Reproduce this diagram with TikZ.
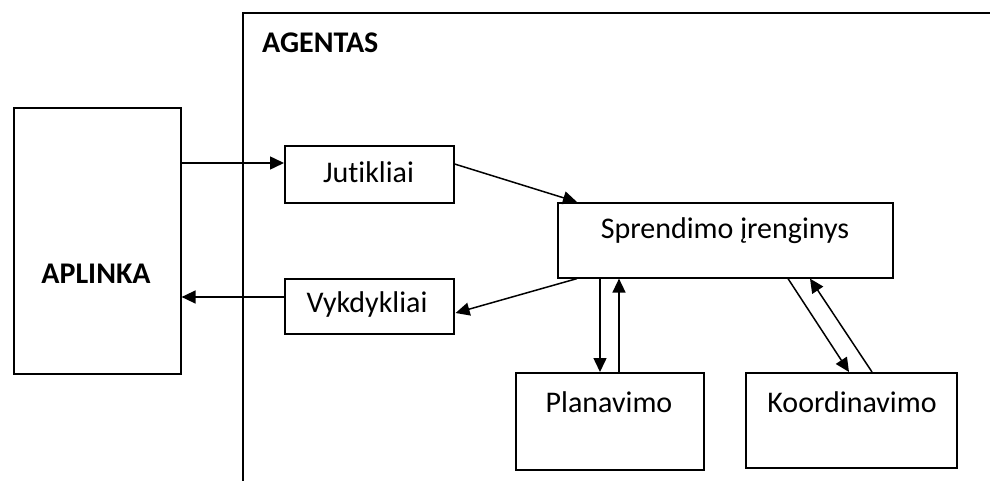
\documentclass[tikz,border=0pt]{standalone}
\usepackage{fontspec}
\setmainfont{Carlito}[RawFeature=-liga]
\usetikzlibrary{arrows.meta,calc}
\begin{document}
\begin{tikzpicture}[x=1pt,y=-1pt,
  box/.style={draw=black,line width=1.6pt,rectangle,inner sep=0pt,anchor=north west},
  lbl/.style={inner sep=0pt,anchor=base,font=\fontsize{30}{35}\selectfont},
  bold/.style={lbl,font=\fontsize{30}{35}\selectfont\bfseries},
  conn/.style={line width=1.5pt,-{Triangle[length=14pt,width=13pt]}}]
  \useasboundingbox (0,0) rectangle (990,481);
  % agent frame, running off the right and bottom edges
  \draw[line width=1.6pt] (243,481) -- (243,13) -- (990,13);
  \node[bold,anchor=base west] (agtitle) at (262,53) {AGENTAS};
  % boxes
  \node[box,minimum width=167pt,minimum height=266pt] (apl) at (13,107) {};
  \node[box,minimum width=169pt,minimum height=57pt] (jut) at (284,145) {};
  \node[box,minimum width=169pt,minimum height=55pt] (vyk) at (284,278) {};
  \node[box,minimum width=335pt,minimum height=75pt] (spr) at (557,202) {};
  \node[box,minimum width=188pt,minimum height=97pt] (plan) at (515,372) {};
  \node[box,minimum width=211pt,minimum height=95pt] (koo) at (745,372) {};
  % labels
  \node[bold] (aplt) at (96,283) {APLINKA};
  \node[lbl] (jutt) at (368.5,183) {Jutikliai};
  \node[lbl] (vykt) at (367,312) {Vykdykliai};
  \node[lbl] (sprt) at (725,238) {Sprendimo įrenginys};
  \node[lbl] (plant) at (609,412) {Planavimo};
  \node[lbl] (koot) at (852,412) {Koordinavimo};
  % connectors
  \draw[conn] ($(apl.north east)+(0,56)$) -- ($(jut.north west)+(0,18)$);
  \draw[conn] ($(jut.north east)+(0,19)$) -- ($(spr.north west)+(20,0)$);
  \draw[conn] ($(spr.south west)+(20,0)$) -- ($(vyk.north east)+(1,35)$);
  \draw[conn] ($(vyk.north west)+(0,19)$) -- ($(apl.north east)+(0,190)$);
  \draw[conn] ($(spr.south west)+(43,0)$) -- ($(plan.north west)+(85,0)$);
  \draw[conn] ($(plan.north west)+(104,0)$) -- ($(spr.south west)+(62,0)$);
  \draw[conn] ($(spr.south west)+(231,0)$) -- ($(koo.north west)+(104,0)$);
  \draw[conn] ($(koo.north west)+(127,0)$) -- ($(spr.south west)+(253,0)$);
\end{tikzpicture}
\end{document}
